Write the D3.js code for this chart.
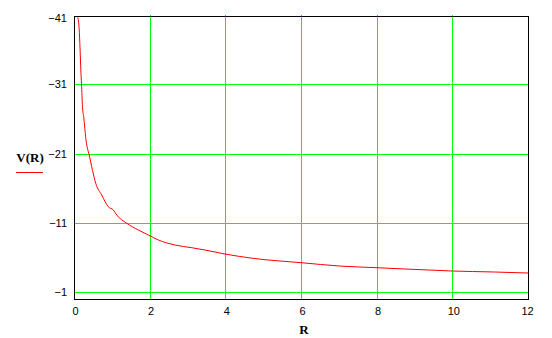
<!DOCTYPE html>
<html lang="en">
<head>
    <meta charset="UTF-8">
    <title>V(R)</title>
    <script type="text/javascript" src="https://d3js.org/d3.v7.min.js"></script>
    <style>
        body { margin: 0; background: #fff; }
        text { font-family: "Liberation Sans", Arial, sans-serif; font-size: 11px; fill: #000; }
        .title { font-family: "Liberation Serif", "Times New Roman", serif; font-size: 13px; font-weight: bold; }
    </style>
</head>
<body>
<svg width="552" height="338"></svg>

<script>
    // values
    var rValues = [0.087, 0.122, 0.148, 0.167, 0.185, 0.211, 0.246, 0.272, 0.299, 0.333, 0.378,
        0.476, 0.563, 0.719, 0.893, 1.026, 1.116, 1.38, 1.687, 1.951, 2.215, 2.66, 3.10, 3.45,
        3.98, 4.72, 5.99, 7.01, 7.97, 8.95, 9.98, 11.07, 12];
    var vValues = [-40.7, -39.1, -36.0, -33.1, -31.1, -27.8, -26.2, -24.7, -23.2, -22.0, -21.05,
        -18.6, -16.7, -15.04, -13.35, -12.88, -12.16, -10.96, -9.99, -9.27, -8.55, -7.82, -7.43, -7.10,
        -6.52, -5.90, -5.27, -4.79, -4.55, -4.31, -4.07, -3.93, -3.78];
    var xTicks = [0, 2, 4, 6, 8, 10, 12];
    var yTicks = [-41, -31, -21, -11, -1];

    var svg = d3.select('svg');

    var x = d3.scaleLinear().domain([0, 12]).range([74.5, 528.5]);
    var y = d3.scaleLinear().domain([-41, 0]).range([15.2, 299.2]);

    var g = svg.append('g');

    // grid
    g.selectAll('.vgrid')
        .data(xTicks.slice(1, -1))
        .enter()
        .append('line')
        .attr('x1', function (d) { return Math.floor(x(d)) + 0.5; })
        .attr('x2', function (d) { return Math.floor(x(d)) + 0.5; })
        .attr('y1', y(-41))
        .attr('y2', y(0))
        .attr('stroke', '#00ff00')
        .attr('shape-rendering', 'crispEdges');

    g.selectAll('.hgrid')
        .data(yTicks.slice(1))
        .enter()
        .append('line')
        .attr('x1', x(0))
        .attr('x2', x(12))
        .attr('y1', function (d) { return Math.round(y(d)) + 0.5; })
        .attr('y2', function (d) { return Math.round(y(d)) + 0.5; })
        .attr('stroke', '#00ff00')
        .attr('shape-rendering', 'crispEdges');

    // frame
    g.append('rect')
        .attr('x', Math.floor(x(0)) + 0.5)
        .attr('y', 16.5)
        .attr('width', Math.floor(x(12)) - Math.floor(x(0)))
        .attr('height', Math.floor(y(0)) - 16)
        .attr('fill', 'none')
        .attr('stroke', '#000')
        .attr('shape-rendering', 'crispEdges');

    // curve
    var data = rValues.map(function (r, i) { return [r, vValues[i]]; });
    var line = d3.line()
        .x(function (d) { return x(d[0]); })
        .y(function (d) { return y(d[1]); })
        .curve(d3.curveMonotoneX);

    g.append('path')
        .attr('d', line(data))
        .attr('fill', 'none')
        .attr('stroke', '#ff0000')
        .attr('stroke-width', 1);

    // y tick labels
    g.selectAll('.ylab')
        .data(yTicks)
        .enter()
        .append('text')
        .attr('x', 67)
        .attr('y', function (d, i) { return i === 0 ? 21.5 : y(d) + 4; })
        .attr('text-anchor', 'end')
        .text(function (d) { return '\u2212' + Math.abs(d); });

    // x tick labels
    g.selectAll('.xlab')
        .data(xTicks)
        .enter()
        .append('text')
        .attr('x', function (d) { return x(d) + (d === 12 ? -1 : 1); })
        .attr('y', 315)
        .attr('text-anchor', 'middle')
        .text(function (d) { return d; });

    // axis titles
    g.append('text')
        .attr('class', 'title')
        .attr('x', 304)
        .attr('y', 334)
        .attr('text-anchor', 'middle')
        .text('R');

    g.append('text')
        .attr('class', 'title')
        .attr('x', 30)
        .attr('y', 162)
        .attr('text-anchor', 'middle')
        .text('V(R)');

    g.append('line')
        .attr('x1', 16)
        .attr('x2', 43)
        .attr('y1', 172.5)
        .attr('y2', 172.5)
        .attr('stroke', '#ff0000')
        .attr('shape-rendering', 'crispEdges');
</script>
</body>
</html>
